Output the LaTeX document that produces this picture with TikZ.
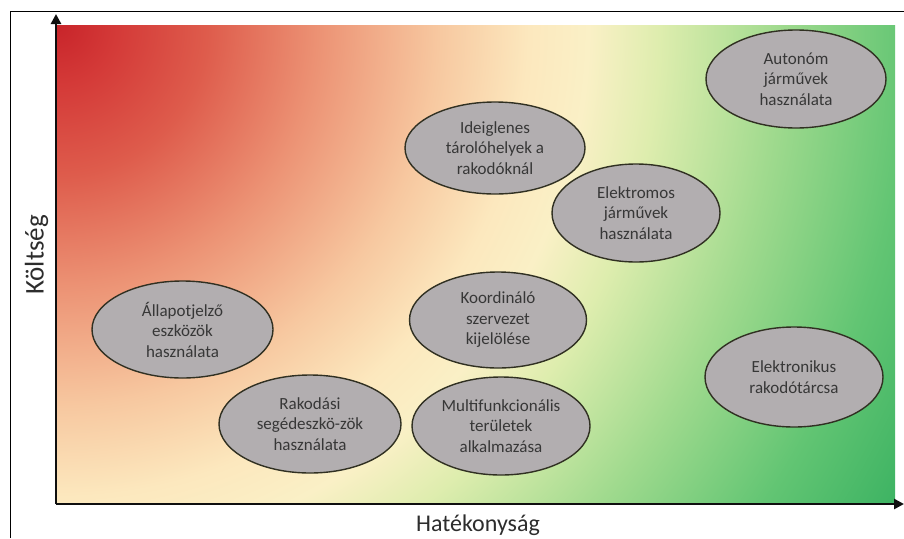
\documentclass[tikz,border=0pt]{standalone}
\usepackage{fontspec}
\setmainfont{Carlito}
\usetikzlibrary{shapes.geometric,arrows.meta}

% colour stops of the cost/efficiency field, radial from the top-left corner
\definecolor{fA}{RGB}{200,36,42}
\definecolor{fB}{RGB}{212,58,56}
\definecolor{fC}{RGB}{222,92,76}
\definecolor{fD}{RGB}{236,146,116}
\definecolor{fE}{RGB}{247,200,160}
\definecolor{fF}{RGB}{252,232,190}
\definecolor{fG}{RGB}{250,240,198}
\definecolor{fH}{RGB}{222,237,174}
\definecolor{fI}{RGB}{160,218,142}
\definecolor{fJ}{RGB}{98,197,115}
\definecolor{fK}{RGB}{55,176,96}

\definecolor{bubblefill}{RGB}{178,174,176}
\definecolor{bubbleline}{RGB}{48,48,34}
\definecolor{bubbletext}{RGB}{55,55,55}
\definecolor{labeltext}{RGB}{45,45,45}
\definecolor{axisline}{RGB}{15,15,15}

\pgfdeclareradialshading{costfield}{\pgfpoint{0bp}{0bp}}{%
  color(0bp)=(fA); color(60bp)=(fB); color(150bp)=(fC); color(260bp)=(fD);
  color(380bp)=(fE); color(470bp)=(fF); color(530bp)=(fG); color(600bp)=(fH);
  color(720bp)=(fI); color(850bp)=(fJ); color(980bp)=(fK)}

\tikzset{
  bubble/.style={ellipse, draw=bubbleline, line width=1.4pt, fill=bubblefill,
    text=bubbletext, align=center, inner sep=0pt,
    font=\fontsize{17}{20.5}\selectfont},
  axisarrow/.style={draw=axisline, line width=2.7pt,
    -{Triangle[length=10pt,width=10pt]}},
  frameline/.style={draw=black, line width=1pt},
  axislabel/.style={text=labeltext, inner sep=0pt, anchor=base}
}

\begin{document}
\begin{tikzpicture}[x=1pt,y=-1pt]
\useasboundingbox (0,0) rectangle (904,538);
\fill[white] (0,0) rectangle (904,538);

% outer frame (left and top edges)
\coordinate (fl) at (10.5,538);
\coordinate (fc) at (10.5,11);
\coordinate (fr) at (904,11);
\draw[frameline] (fl) -- (fc) -- (fr);

% coloured field
\begin{scope}
  \clip (57,25) rectangle (895,504);
  \node[inner sep=0pt, outer sep=0pt] (field) at (57,25) {\pgfuseshading{costfield}};
\end{scope}

% axes
\coordinate (o) at (56,504);
\coordinate (ytop) at (56,14);
\coordinate (xend) at (904,504);
\draw[axisarrow] (o) -- (ytop);
\draw[axisarrow] (o) -- (xend);

% axis labels
\node[axislabel, rotate=90, font=\fontsize{27}{30}\selectfont] (ylab) at (43.5,255) {Költség};
\node[axislabel, font=\fontsize{24}{28}\selectfont] (xlab) at (478,531.5) {Hatékonyság};

% measures
\node[bubble, minimum width=180pt, minimum height=98pt] (aut) at (796,79)
  {Autonóm\\járművek\\használata};
\node[bubble, minimum width=180pt, minimum height=92pt] (ide) at (495,148)
  {Ideiglenes\\tárolóhelyek a\\rakodóknál};
\node[bubble, minimum width=168pt, minimum height=98pt] (ele) at (636,213)
  {Elektromos\\járművek\\használata};
\node[bubble, minimum width=181pt, minimum height=97pt] (all) at (182.5,329.5)
  {Állapotjelző\\eszközök\\használata};
\node[bubble, minimum width=177pt, minimum height=96pt] (koo) at (498,320)
  {Koordináló\\szervezet\\kijelölése};
\node[bubble, minimum width=178pt, minimum height=100pt] (elk) at (794,377)
  {Elektronikus\\rakodótárcsa};
\node[bubble, minimum width=182pt, minimum height=98pt] (rak) at (310,424)
  {Rakodási\\segédeszkö-zök\\használata};
\node[bubble, minimum width=178pt, minimum height=98pt] (mul) at (501,426)
  {Multifunkcionális\\területek\\alkalmazása};
\end{tikzpicture}
\end{document}
